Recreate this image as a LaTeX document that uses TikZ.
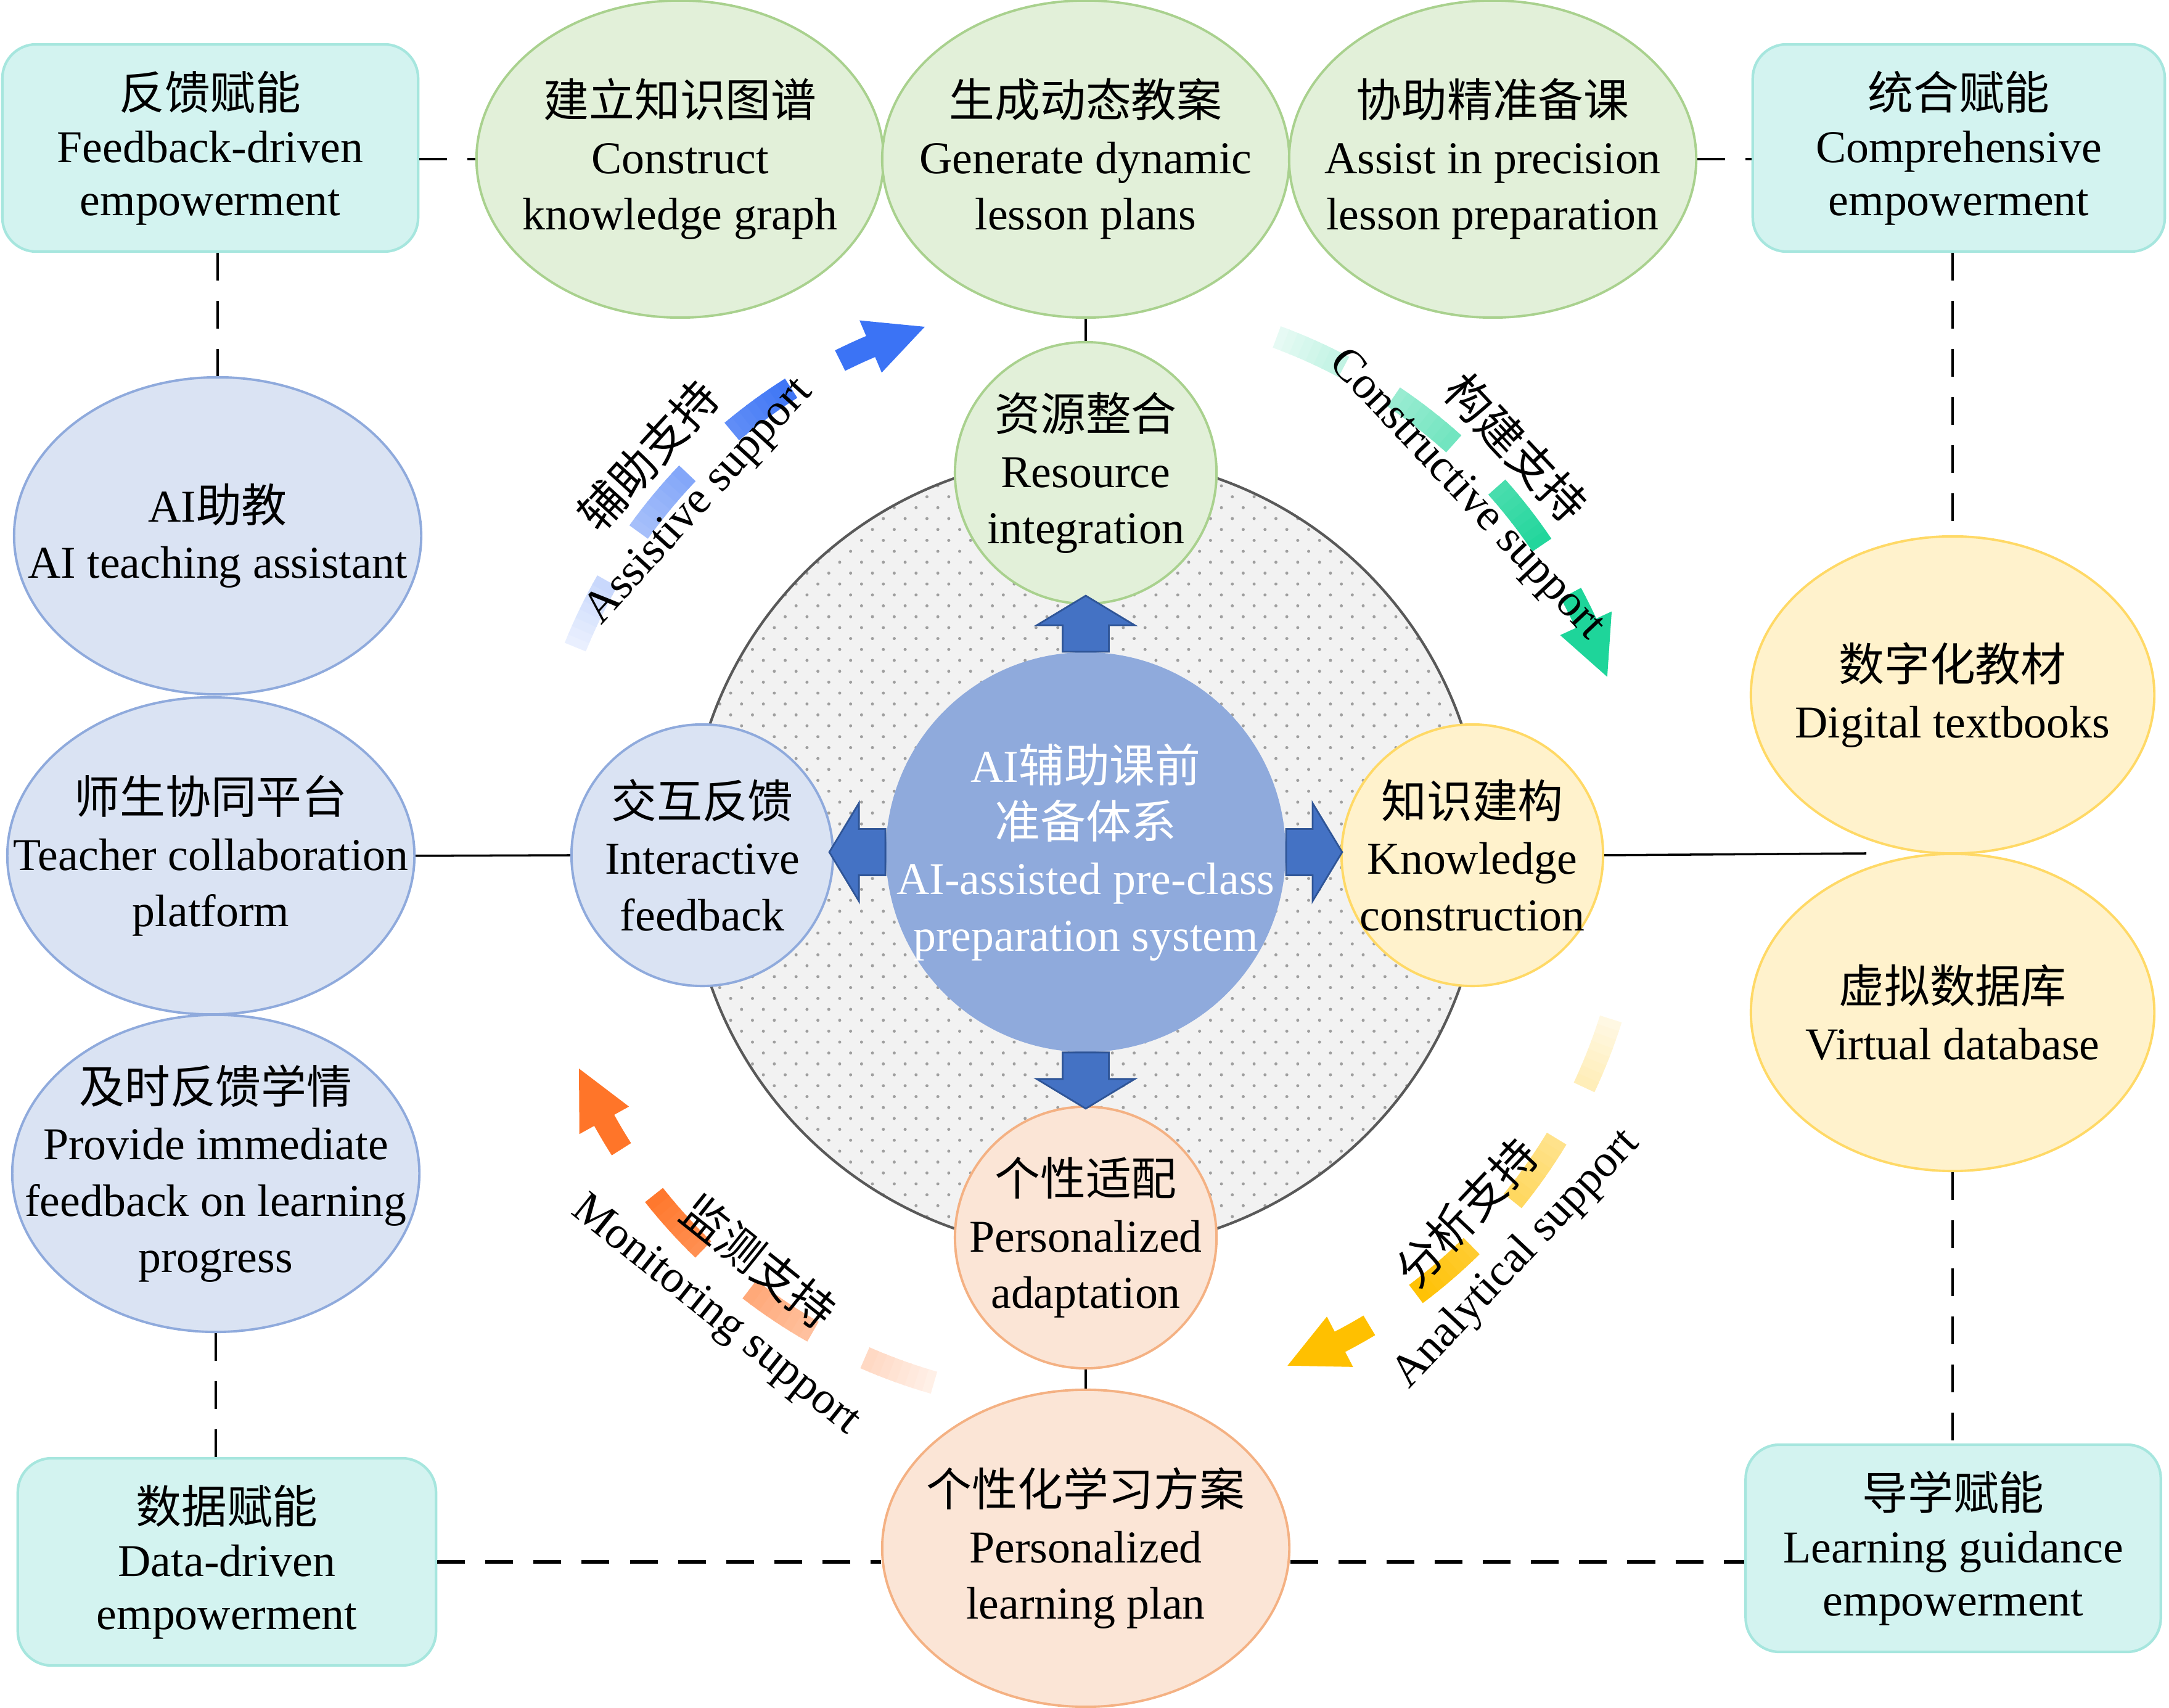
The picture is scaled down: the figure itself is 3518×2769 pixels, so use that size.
\documentclass[tikz,border=0pt]{standalone}
\usepackage{fontspec}
\setmainfont{Liberation Serif}
\newfontfamily\zhfont{Noto Sans CJK SC}
\newcommand{\zh}[1]{{\zhfont #1}}
\usetikzlibrary{shapes.geometric,patterns.meta,calc}

\definecolor{boxfill}{HTML}{D3F3F0}
\definecolor{boxline}{HTML}{A6E6DE}
\definecolor{greenfill}{HTML}{E2F0D9}
\definecolor{greenline}{HTML}{A9D18E}
\definecolor{bluefill}{HTML}{DAE3F3}
\definecolor{blueline}{HTML}{8FAADC}
\definecolor{yellowfill}{HTML}{FFF2CC}
\definecolor{yellowline}{HTML}{FFD966}
\definecolor{orangefill}{HTML}{FBE5D6}
\definecolor{orangeline}{HTML}{F4B183}
\definecolor{corefill}{HTML}{8FAADC}
\definecolor{blockfill}{HTML}{4472C4}
\definecolor{blockline}{HTML}{2F5597}
\definecolor{ringfill}{HTML}{F2F2F2}
\definecolor{ringline}{HTML}{595959}
\definecolor{arcblue}{HTML}{3B73F5}
\definecolor{arcgreen}{HTML}{1ED59A}
\definecolor{arcyellow}{HTML}{FFC000}
\definecolor{arcorange}{HTML}{FF7529}

\tikzset{
  lbl/.style={align=center, inner sep=0pt, font=\fontsize{21}{26}\selectfont},
  ell/.style={ellipse, minimum width=6.6cm, minimum height=5.14cm, inner sep=0pt, line width=1.1pt},
  greenell/.style={ell, draw=greenline, fill=greenfill},
  blueell/.style={ell, draw=blueline, fill=bluefill},
  yellowell/.style={ell, draw=yellowline, fill=yellowfill},
  orangeell/.style={ell, draw=orangeline, fill=orangefill},
  hubcirc/.style={circle, minimum size=4.24cm, inner sep=0pt, line width=1.1pt},
  empbox/.style={rectangle, rounded corners=0.55cm, draw=boxline, fill=boxfill, line width=1.2pt,
    minimum width=6.74cm, minimum height=3.36cm, inner sep=0pt, align=center,
    font=\fontsize{21}{24.5}\selectfont},
  solidlink/.style={line width=1pt},
  thindash/.style={line width=1pt, dash pattern=on 0.45cm off 0.33cm},
  thickdash/.style={line width=1.5pt, dash pattern=on 0.45cm off 0.33cm},
  blockarr/.style={draw=blockline, fill=blockfill, line width=0.8pt},
  arcdash/.style={line width=0.37cm},
  arclbl/.style={align=center, inner sep=0pt, font=\fontsize{21}{29}\selectfont},
  blockarrow/.pic={
    \draw[blockarr] (0,-37.5) -- (43,-37.5) -- (43,-79.5) -- (91,0) -- (43,79.5) -- (43,37.5) -- (0,37.5) -- cycle;
  }
}

% #1 start angle, #2 colour
\newcommand{\supportarc}[2]{%
  \foreach \dst/\den in {0/7.5,13.7/21.5,28/35.5}{
    \foreach \kk in {0,...,7}{
      \pgfmathsetmacro{\arcA}{#1-\dst-(\den-\dst)*\kk/8}
      \pgfmathsetmacro{\arcB}{#1-\dst-(\den-\dst)*(\kk+1)/8-0.15}
      \pgfmathsetmacro{\arcP}{min(100,10+90*(\dst+(\den-\dst)*(\kk+0.5)/8)/36)}
      \draw[arcdash, draw=#2!\arcP] ([shift={(\arcA:893)}]ring.center) arc[start angle=\arcA, end angle=\arcB, radius=893];
    }
  }
  \pgfmathsetmacro{\arcS}{#1-41.5}
  \pgfmathsetmacro{\arcE}{#1-45.3}
  \pgfmathsetmacro{\arcH}{#1-45}
  \pgfmathsetmacro{\arcT}{#1-51}
  \draw[arcdash, draw=#2] ([shift={(\arcS:893)}]ring.center) arc[start angle=\arcS, end angle=\arcE, radius=893];
  \fill[#2] ([shift={(\arcH:939)}]ring.center) -- ([shift={(\arcT:893)}]ring.center) -- ([shift={(\arcH:847)}]ring.center) -- cycle;
}

\begin{document}
\begin{tikzpicture}[x=0.01cm, y=0.01cm]
\path[use as bounding box] (0,0) rectangle (3518,2769);

\node[circle, minimum size=12.88cm, draw=ringline, line width=1.2pt, preaction={fill=ringfill},
  pattern={Dots[angle=45, distance=0.25cm, radius=0.025cm]}, pattern color=gray!75] (ring) at (1761,1385) {};

\supportarc{158}{arcblue}
\supportarc{69.7}{arcgreen}
\supportarc{-17.5}{arcyellow}
\supportarc{254}{arcorange}

\node[arclbl, rotate=47.7] (assist) at ([shift={(137.7:904)}]ring.center) {\zh{辅助支持}\\Assistive support};
\node[arclbl, rotate=-46.7] (construct) at ([shift={(43.3:904)}]ring.center) {\zh{构建支持}\\Constructive support};
\node[arclbl, rotate=46.7] (analyse) at ([shift={(-43.3:904)}]ring.center) {\zh{分析支持}\\Analytical support};
\node[arclbl, rotate=-38.7] (monitor) at ([shift={(231.3:904)}]ring.center) {\zh{监测支持}\\Monitoring support};

\node[circle, minimum size=6.48cm, fill=corefill, inner sep=0pt,
  label={[lbl, text=white]center:{AI\zh{辅助课前}\\\zh{准备体系}\\AI-assisted pre-class\\preparation system}}] (core) at (1761,1387) {};

\node[hubcirc, draw=greenline, fill=greenfill, label={[lbl]center:{\zh{资源整合}\\Resource\\integration}}] (res) at (1761,2002) {};
\node[hubcirc, draw=blueline, fill=bluefill, label={[lbl]center:{\zh{交互反馈}\\Interactive\\feedback}}] (ifb) at (1139,1382) {};
\node[hubcirc, draw=yellowline, fill=yellowfill, label={[lbl]center:{\zh{知识建构}\\Knowledge\\construction}}] (kc) at (2388,1382) {};
\node[hubcirc, draw=orangeline, fill=orangefill, label={[lbl]center:{\zh{个性适配}\\Personalized\\adaptation}}] (pa) at (1761,762) {};

\pic[rotate=90] at (core.north) {blockarrow};
\pic[rotate=-90] at (core.south) {blockarrow};
\pic[rotate=180] at (core.west) {blockarrow};
\pic at (core.east) {blockarrow};

\node[greenell, label={[lbl]center:{\zh{建立知识图谱}\\Construct\\knowledge graph}}] (kg) at (1103,2511) {};
\node[greenell, label={[lbl]center:{\zh{生成动态教案}\\Generate dynamic\\lesson plans}}] (gdl) at (1761,2511) {};
\node[greenell, label={[lbl]center:{\zh{协助精准备课}\\Assist in precision\\lesson preparation}}] (apl) at (2421,2511) {};

\node[blueell, label={[lbl]center:{AI\zh{助教}\\AI teaching assistant}}] (aita) at (353,1900) {};
\node[blueell, label={[lbl]center:{\zh{师生协同平台}\\Teacher collaboration\\platform}}] (tcp) at (342,1381) {};
\node[blueell, label={[lbl]center:{\zh{及时反馈学情}\\Provide immediate\\feedback on learning\\progress}}] (ifl) at (350,866) {};

\node[yellowell, minimum width=6.54cm, label={[lbl]center:{\zh{数字化教材}\\Digital textbooks}}] (dtb) at (3167,1642) {};
\node[yellowell, minimum width=6.54cm, label={[lbl]center:{\zh{虚拟数据库}\\Virtual database}}] (vdb) at (3167,1127) {};

\node[orangeell, label={[lbl]center:{\zh{个性化学习方案}\\Personalized\\learning plan}}] (plp) at (1761,258) {};

\node[empbox] (fbbox) at (341,2529) {\zh{反馈赋能}\\Feedback-driven\\empowerment};
\node[empbox, minimum width=6.68cm] (cbbox) at (3177,2529) {\zh{统合赋能}\\Comprehensive\\empowerment};
\node[empbox, minimum width=6.78cm] (dbbox) at (368,236) {\zh{数据赋能}\\Data-driven\\empowerment};
\node[empbox, minimum width=6.73cm] (gbbox) at (3168,258) {\zh{导学赋能}\\Learning guidance\\empowerment};

\coordinate (kcend) at (3027,1385);

\draw[solidlink] (tcp.east) -- (ifb.west);
\draw[solidlink] (kc.east) -- (kcend);
\draw[solidlink] (gdl.south) -- (res.north);
\draw[solidlink] (pa.south) -- (plp.north);

\draw[thindash] (fbbox.east |- kg.west) -- (kg.west);
\draw[thindash] (apl.east) -- (apl.east -| cbbox.west);
\draw[thindash] (aita.north |- fbbox.south) -- (aita.north);
\draw[thindash] (dtb.north |- cbbox.south) -- (dtb.north);
\draw[thindash] (ifl.south) -- (ifl.south |- dbbox.north);
\draw[thindash] (vdb.south) -- (vdb.south |- gbbox.north);
\draw[thickdash] (dbbox.east) -- (dbbox.east -| plp.west);
\draw[thickdash] (dbbox.east -| plp.east) -- (dbbox.east -| gbbox.west);
\end{tikzpicture}
\end{document}
